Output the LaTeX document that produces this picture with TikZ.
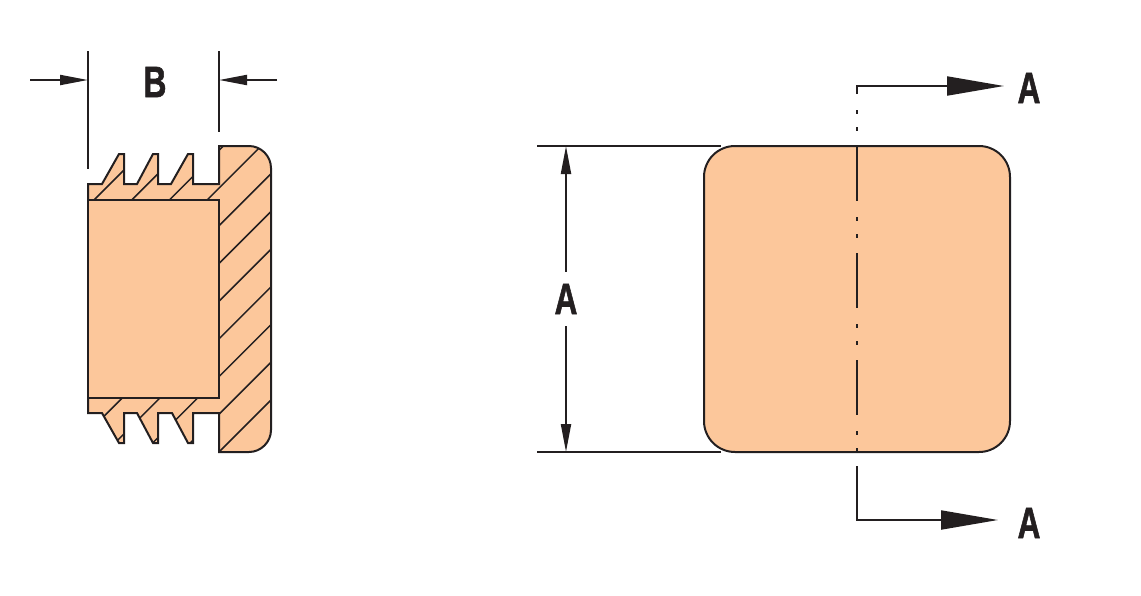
\documentclass[tikz,border=0pt]{standalone}
\usepackage{fontspec}
\setmainfont{Liberation Sans}
\newfontfamily\dimfont[BoldFeatures={FakeBold=1.6}]{Liberation Sans}
\usetikzlibrary{arrows.meta}

\definecolor{plugfill}{HTML}{FCC79B}
\definecolor{inkline}{HTML}{231F20}

\newcommand{\dimtext}[1]{\scalebox{.72}[1]{\bfseries #1}}
\newcommand{\sectionoutline}{(88,184)--(102,184)--(119,154)--(124,154)--(124,184)--(137,184)--(153,154)--(158,154)--(158,184)--(171,184)--(188,154)--(193,154)--(193,184)--(219,184)--(219,146)
  --(249,146) .. controls (261,146) and (271,156) .. (271,168)--(271,430) .. controls (271,442) and (261,452) .. (249,452)--(219,452)
  --(219,413)--(193,413)--(193,443)--(188,443)--(172,413)--(158,413)--(158,443)--(153,443)--(137,413)--(124,413)--(124,443)--(119,443)--(102,413)--(88,413)--cycle}

\tikzset{
  dimline/.style={draw=inkline,line width=2pt},
  bigtip/.style={-{Triangle[length=57pt,width=19pt]}},
  smalltip/.style={-{Triangle[length=28pt,width=10pt]}},
  dimlabel/.style={text=inkline,inner sep=0pt,font=\dimfont\fontsize{44}{44}\selectfont},
  hatchline/.style={draw=inkline,line width=1.5pt},
  plugface/.style={draw=inkline,fill=plugfill,line width=2pt,outer sep=0pt,inner sep=0pt}
}

\begin{document}
\begin{tikzpicture}[x=1pt,y=-1pt]
    \useasboundingbox (0,0) rectangle (1141,595);

    % section through the plug
    \fill[plugfill]\sectionoutline;
    \begin{scope}
        \clip\sectionoutline;
        \foreach \k in {0,...,10}
            \draw[hatchline]({294+37.7*\k-140},140)--({294+37.7*\k-460},460);
    \end{scope}
    \draw[dimline,line join=miter]\sectionoutline;
    \node[plugface,minimum width=131pt,minimum height=198pt](bore)at(153.5,299){};

    % width B
    \coordinate(bleftout)at(30,80);
    \coordinate(bleft)at(88,80);
    \coordinate(brightout)at(277,80);
    \coordinate(bright)at(219,80);
    \draw[dimline](88,51)--(88,169);
    \draw[dimline](219,51)--(219,132);
    \draw[dimline,smalltip](bleftout)--(bleft);
    \draw[dimline,smalltip](brightout)--(bright);
    \node[dimlabel](labelb)at(155,82){\dimtext{B}};

    % front view
    \node[plugface,minimum width=306pt,minimum height=306pt,rounded corners=31pt](face)at(857,299){};

    % height A
    \coordinate(atopleft)at(537,146);
    \coordinate(atopright)at(721,146);
    \coordinate(abotleft)at(537,452);
    \coordinate(abotright)at(721,452);
    \coordinate(atop)at(566,146);
    \coordinate(abot)at(566,452);
    \draw[dimline](atopleft)--(atopright);
    \draw[dimline](abotleft)--(abotright);
    \node[dimlabel,inner sep=12pt](labela)at(566,299){\dimtext{A}};
    \draw[dimline,smalltip](labela.north)--(atop);
    \draw[dimline,smalltip](labela.south)--(abot);

    % cutting plane
    \coordinate(cuttop)at(857,94);
    \coordinate(cutdash)at(857,110);
    \coordinate(cutend)at(857,452);
    \coordinate(cutbot)at(857,466);
    \coordinate(topend)at(1004,86);
    \coordinate(botend)at(998,520);
    \draw[dimline,dash pattern=on 4.3pt off 12.7pt on 4.3pt off 15pt on 54.7pt off 16pt](cutdash)--(cutend);
    \draw[dimline,bigtip](cuttop)|-(topend);
    \draw[dimline,bigtip](cutbot)|-(botend);
    \node[dimlabel](labeltop)at(1029,88){\dimtext{A}};
    \node[dimlabel](labelbot)at(1029,523){\dimtext{A}};
\end{tikzpicture}
\end{document}
